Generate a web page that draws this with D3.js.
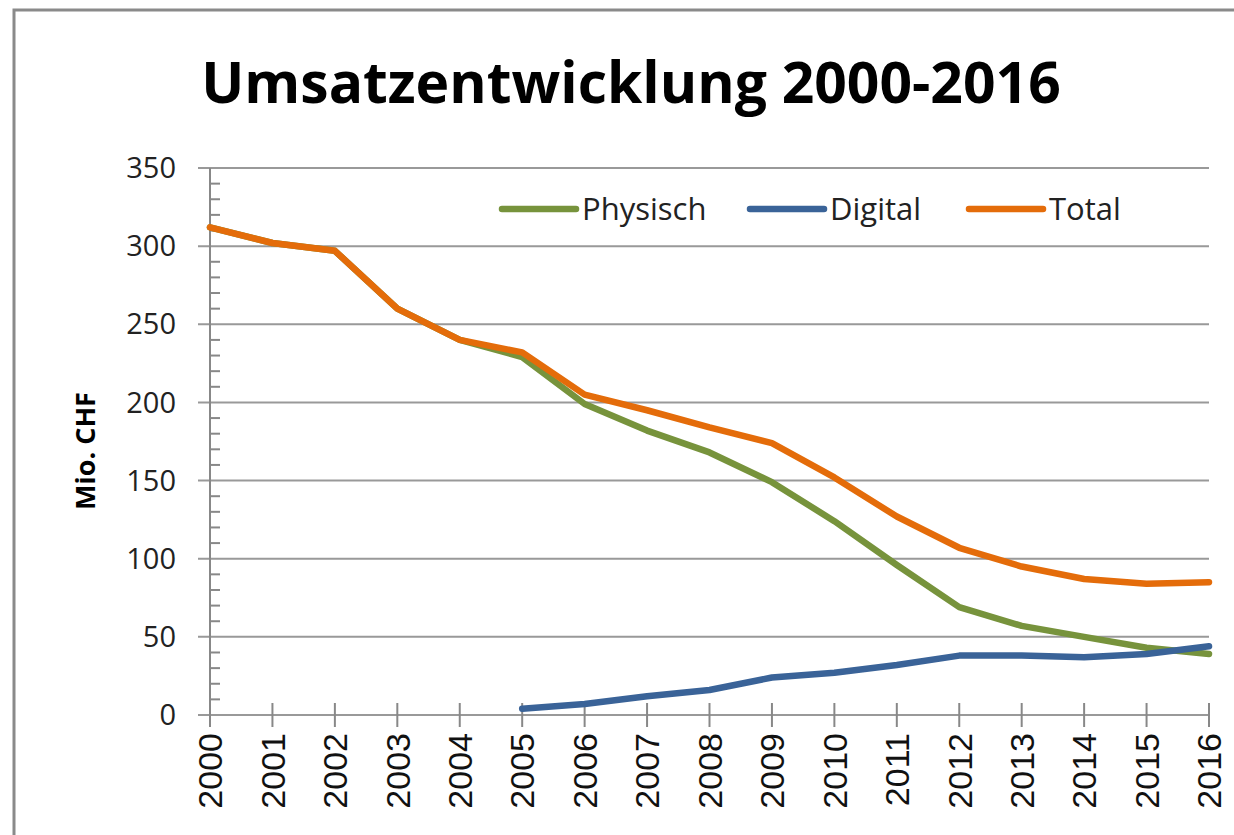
<!DOCTYPE html>
<html>
<head>
<meta charset="utf-8">
<script src="https://cdn.jsdelivr.net/npm/d3@7"></script>
<style>
  body { margin: 0; background: #fff; }
  svg { display: block; }
</style>
</head>
<body>
<div id="chart"></div>
<script>
// data
const years = [2000, 2001, 2002, 2003, 2004, 2005, 2006, 2007, 2008, 2009, 2010, 2011, 2012, 2013, 2014, 2015, 2016];
const physisch = [312, 302, 297, 260, 240, 229, 199, 182, 168, 149, 124, 96, 69, 57, 50, 43, 39];
const digital = [null, null, null, null, null, 4, 7, 12, 16, 24, 27, 32, 38, 38, 37, 39, 44];
const total = [312, 302, 297, 260, 240, 232, 205, 195, 184, 174, 152, 127, 107, 95, 87, 84, 85];
const yTicks = [0, 50, 100, 150, 200, 250, 300, 350];

const series = [
  {name: "Physisch", values: physisch, color: "#77933c"},
  {name: "Digital", values: digital, color: "#3a6398"},
  {name: "Total", values: total, color: "#e46c0a"}
];

const W = 1234, H = 835;
const margin = {top: 168, right: 25, bottom: 120, left: 210};

const svg = d3.select("#chart")
  .append("svg")
    .attr("width", W)
    .attr("height", H);

// outer frame
svg.append("rect")
  .attr("x", 14).attr("y", 10)
  .attr("width", W + 10).attr("height", H + 10)
  .style("fill", "none")
  .style("stroke", "#8a8a8a")
  .style("stroke-width", 3);

const x = d3.scaleLinear()
  .domain([2000, 2016])
  .range([margin.left, W - margin.right]);

const y = d3.scaleLinear()
  .domain([0, 350])
  .range([H - margin.bottom, margin.top]);

// title
svg.append("text")
  .attr("x", 631)
  .attr("y", 103)
  .attr("text-anchor", "middle")
  .style("font-family", "'Open Sans', sans-serif")
  .style("font-weight", "bold")
  .style("font-size", "57px")
  .text("Umsatzentwicklung 2000-2016");

// gridlines
svg.append("g")
  .selectAll("line")
  .data(yTicks)
  .join("line")
    .attr("x1", margin.left - 12)
    .attr("x2", x(2016))
    .attr("y1", d => y(d))
    .attr("y2", d => y(d))
    .style("stroke", "#999")
    .style("stroke-width", 2);

// y axis with minor ticks inside
const yAxis = svg.append("g")
  .attr("transform", `translate(${margin.left},0)`);
yAxis.append("line")
  .attr("y1", y(0)).attr("y2", y(350))
  .style("stroke", "#888").style("stroke-width", 2);
yAxis.selectAll(".minor")
  .data(d3.range(0, 351, 10).filter(v => v % 50 !== 0))
  .join("line")
    .attr("class", "minor")
    .attr("x1", 0).attr("x2", 10)
    .attr("y1", d => y(d)).attr("y2", d => y(d))
    .style("stroke", "#888").style("stroke-width", 2);
yAxis.selectAll(".lbl")
  .data(yTicks)
  .join("text")
    .attr("class", "lbl")
    .attr("x", -34)
    .attr("y", d => y(d))
    .attr("dy", "0.35em")
    .attr("text-anchor", "end")
    .style("font-family", "'Open Sans', sans-serif")
    .style("font-size", "29px")
    .style("fill", "#222")
    .text(d => d);

// x axis
const xAxis = svg.append("g");
xAxis.selectAll(".tick")
  .data(years)
  .join("line")
    .attr("class", "tick")
    .attr("x1", d => x(d)).attr("x2", d => x(d))
    .attr("y1", y(0) - 12).attr("y2", y(0) + 12)
    .style("stroke", "#888").style("stroke-width", 2);
xAxis.selectAll(".lbl")
  .data(years)
  .join("text")
    .attr("class", "lbl")
    .attr("transform", d => `translate(${x(d)},${y(0) + 18}) rotate(-90)`)
    .attr("dy", "0.36em")
    .attr("text-anchor", "end")
    .style("font-family", "'Liberation Sans', Arial, sans-serif")
    .style("font-size", "34px")
    .style("fill", "#111")
    .text(d => d);

// y label
svg.append("text")
  .attr("transform", `translate(95,451) rotate(-90)`)
  .attr("text-anchor", "middle")
  .style("font-family", "'Open Sans', sans-serif")
  .style("font-weight", "bold")
  .style("font-size", "27px")
  .text("Mio. CHF");

// lines
const line = d3.line()
  .defined(d => d[1] != null)
  .x(d => x(d[0]))
  .y(d => y(d[1]));

svg.append("g")
  .selectAll("path")
  .data(series)
  .join("path")
    .attr("d", s => line(years.map((yr, i) => [yr, s.values[i]])))
    .style("fill", "none")
    .style("stroke", s => s.color)
    .style("stroke-width", 6.5)
    .style("stroke-linejoin", "round")
    .style("stroke-linecap", "round");

// legend
const legendX = [500, 748, 967];
const legend = svg.append("g")
  .selectAll("g")
  .data(series)
  .join("g")
    .attr("transform", (s, i) => `translate(${legendX[i]},209)`);
legend.append("line")
  .attr("x1", 2).attr("x2", 76)
  .style("stroke", s => s.color)
  .style("stroke-width", 6.5)
  .style("stroke-linecap", "round");
legend.append("text")
  .attr("x", 82)
  .attr("dy", "0.35em")
  .style("font-family", "'Open Sans', sans-serif")
  .style("font-size", "31px")
  .style("fill", "#222")
  .text(s => s.name);
</script>
</body>
</html>
